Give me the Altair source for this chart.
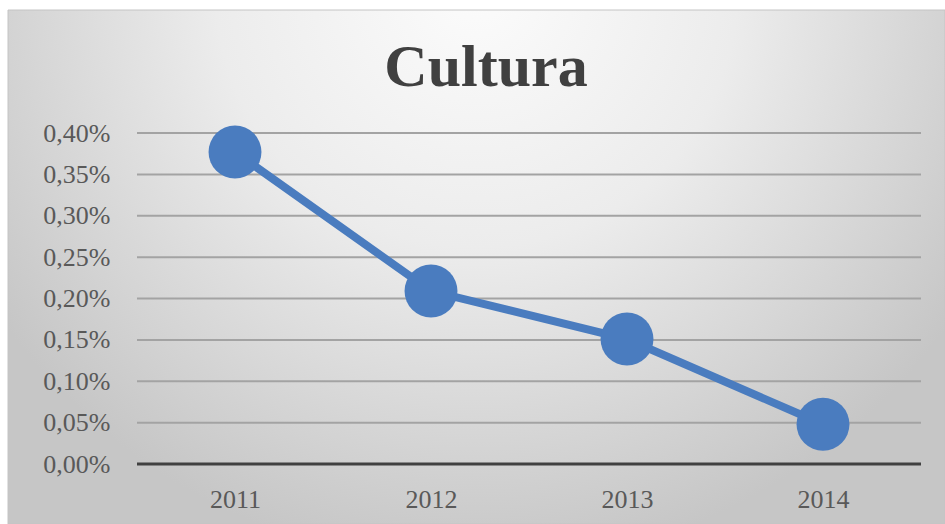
import altair as alt
import pandas as pd

years = ["2011", "2012", "2013", "2014"]
values = [0.00377, 0.00209, 0.00151, 0.00048]
title_text = ["Cultura"]
y_ticks = [0.0005, 0.001, 0.0015, 0.002, 0.0025, 0.003, 0.0035, 0.004]

df = pd.DataFrame({"year": years, "value": values})
tdf = pd.DataFrame({"t": title_text})
gdf = pd.DataFrame({"v": y_ticks})
zdf = pd.DataFrame({"v": [0.0]})

W, H = 784, 331
PL, PT = 137, 133

blue = "#4a7cbf"
yscale = alt.Scale(domain=[0, 0.004], nice=False, zero=True)

bg = alt.Chart(tdf).mark_rect(
    color=alt.RadialGradient(
        gradient="radial", x1=0.5, y1=0.2, r1=0, x2=0.5, y2=0.2, r2=0.62,
        stops=[alt.GradientStop(offset=0, color="#fcfcfc"),
               alt.GradientStop(offset=0.45, color="#ececec"),
               alt.GradientStop(offset=1, color="#c6c6c6")]),
    stroke="#c4c4c4", strokeWidth=1,
).encode(
    x=alt.value(8 - PL), x2=alt.value(945 - PL),
    y=alt.value(10 - PT), y2=alt.value(524 - PT),
)

title = alt.Chart(tdf).mark_text(
    font="Liberation Serif", fontSize=60, fontWeight="bold", color="#404040",
    align="center", baseline="alphabetic",
).encode(text="t:N", x=alt.value(486 - PL), y=alt.value(86 - PT))

grid = alt.Chart(gdf).mark_rule(color="#a3a3a3", strokeWidth=2).encode(
    y=alt.Y("v:Q", scale=yscale)
)
zero = alt.Chart(zdf).mark_rule(color="#404040", strokeWidth=3).encode(
    y=alt.Y("v:Q", scale=yscale)
)

base = alt.Chart(df).encode(
    x=alt.X("year:N", sort=years, title=None,
            scale=alt.Scale(type="point", padding=0.5),
            axis=alt.Axis(labelAngle=0, ticks=False, domain=False, grid=False,
                          labelFont="Liberation Serif", labelFontSize=26,
                          labelColor="#595959", labelPadding=22, zindex=1)),
    y=alt.Y("value:Q", title=None, scale=yscale,
            axis=alt.Axis(values=[0] + y_ticks,
                          labelExpr="replace(format(datum.value, '.2%'), '.', ',')",
                          ticks=False, domain=False, grid=False,
                          labelFont="Liberation Serif", labelFontSize=26,
                          labelColor="#595959", labelPadding=27, zindex=1)),
)

line = base.mark_line(color=blue, strokeWidth=8)
pts = base.mark_circle(color=blue, opacity=1, size=2800)

chart = alt.layer(bg, title, grid, zero, line, pts).properties(
    width=W, height=H,
    autosize=alt.AutoSizeParams(type="none"),
    padding={"left": PL, "top": PT, "right": 945 - PL - W, "bottom": 524 - PT - H},
    background="#ffffff",
).configure_view(stroke=None)

chart.save("out.html", embed_options={"renderer": "svg", "actions": False})
